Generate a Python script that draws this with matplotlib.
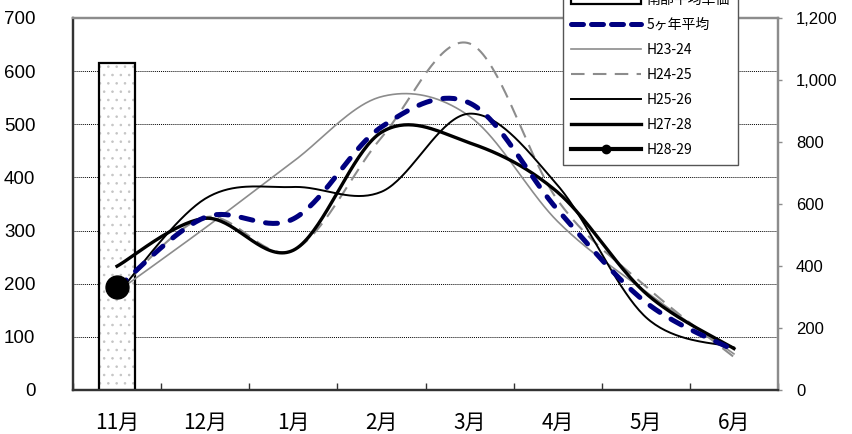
import matplotlib
matplotlib.use("Agg")
import matplotlib.pyplot as plt
import numpy as np
from matplotlib.lines import Line2D
from matplotlib.patches import Patch

# Data
months = ['11月', '12月', '1月', '2月', '3月', '4月', '5月', '6月']
price_bar = [1056]                      # 南部平均単価 (right axis), only Nov
avg5 = [192, 325, 322, 495, 540, 339, 165, 75]   # 5ヶ年平均
h23 = [185, 305, 430, 552, 515, 317, 185, 68]    # H23-24
h24 = [185, 325, 263, 475, 652, 357, 195, 62]    # H24-25
h25 = [180, 360, 382, 373, 520, 385, 137, 80]    # H25-26
h27 = [233, 323, 263, 485, 465, 372, 182, 78]    # H27-28
h28 = [194]                                       # H28-29


def smooth(y, n=40):
    # Excel-like smoothed line (Catmull-Rom bezier through the points)
    y = np.asarray(y, float)
    x = np.arange(len(y), dtype=float)
    if len(y) < 2:
        return x, y
    xs, ys = [], []
    t = np.linspace(0, 1, n)
    for i in range(len(y) - 1):
        i0 = max(i - 1, 0)
        i3 = min(i + 2, len(y) - 1)
        px = [x[i], x[i] + (x[i + 1] - x[i0]) / 6, x[i + 1] - (x[i3] - x[i]) / 6, x[i + 1]]
        py = [y[i], y[i] + (y[i + 1] - y[i0]) / 6, y[i + 1] - (y[i3] - y[i]) / 6, y[i + 1]]
        b = [(1 - t) ** 3, 3 * (1 - t) ** 2 * t, 3 * (1 - t) * t ** 2, t ** 3]
        xs.append(sum(bb * p for bb, p in zip(b, px)))
        ys.append(sum(bb * p for bb, p in zip(b, py)))
    return np.concatenate(xs), np.concatenate(ys)


jp = ['Noto Sans CJK JP', 'DejaVu Sans']
num = ['Liberation Sans', 'DejaVu Sans']
plt.rcParams['hatch.linewidth'] = 0.6
dot_gray = '#c4c4c4'

fig = plt.figure(figsize=(8.53, 4.34), dpi=100)
ax = fig.add_axes([73 / 853, 44 / 434, 705 / 853, 372 / 434])
ax2 = ax.twinx()

# grid on the left axis
ax.set_ylim(0, 700)
ax.set_yticks(range(0, 701, 100))
ax.yaxis.grid(True, color='black', linestyle=(0, (1, 1)), linewidth=0.7)
ax.set_axisbelow(True)

# bar on the right axis: dotted fill first, then the black outline
ax2.set_ylim(0, 1200)
ax2.bar(range(len(price_bar)), price_bar, width=0.41, color='white',
        edgecolor=dot_gray, linewidth=0, hatch='..', zorder=1)
ax2.bar(range(len(price_bar)), price_bar, width=0.41, fill=False,
        edgecolor='black', linewidth=1.6, zorder=1)

# lines use the left-axis scale, drawn above the bar
tr = ax.transData
gray = '#8c8c8c'
ax2.plot(*smooth(h23), color=gray, lw=1.2, transform=tr, zorder=3)
ax2.plot(*smooth(h24), color=gray, lw=1.5, dashes=(6.5, 4), transform=tr, zorder=3)
ax2.plot(*smooth(h25), color='black', lw=1.4, transform=tr, zorder=3)
ax2.plot(*smooth(h27), color='black', lw=2.4, transform=tr, zorder=3)
ax2.plot(*smooth(avg5), color='#000080', lw=3.6, dashes=(2.4, 2.6),
         dash_capstyle='round', transform=tr, zorder=4)
ax2.plot(range(len(h28)), h28, color='black', marker='o', ms=16.5, lw=3,
         transform=tr, zorder=5)
ax2.set_ylim(0, 1200)

ax.set_xlim(-0.5, len(months) - 0.5)
ax.set_xticks(np.arange(len(months) + 1) - 0.5)
ax.set_xticklabels([])
ax.set_xticks(range(len(months)), minor=True)
ax.set_xticklabels(months, minor=True, fontsize=15, family=jp)
ax.tick_params(axis='x', which='major', direction='in', length=5, width=1, color='#333333')
ax.tick_params(axis='x', which='minor', length=0, pad=16)
ax.tick_params(axis='y', length=0, pad=27, labelsize=13.5)
for lab in ax.get_yticklabels():
    lab.set_family(num)

ax2.set_yticks(range(0, 1201, 200))
ax2.set_yticklabels([f'{v:,}' for v in range(0, 1201, 200)], family=num, fontsize=12)
ax2.tick_params(axis='y', direction='out', length=3, width=1, color=gray, pad=10)

for a in (ax, ax2):
    a.spines['left'].set_color('#333333')
    a.spines['bottom'].set_color('#333333')
    a.spines['top'].set_color(gray)
    a.spines['right'].set_color(gray)
    for s in a.spines.values():
        s.set_linewidth(1.6)

handles = [
    Patch(facecolor='white', edgecolor='black', linewidth=1.6),
    Line2D([], [], color='#000080', lw=3.6, dashes=(2.4, 1.6), dash_capstyle='round'),
    Line2D([], [], color=gray, lw=1.2),
    Line2D([], [], color=gray, lw=1.5, dashes=(6.5, 4)),
    Line2D([], [], color='black', lw=1.4),
    Line2D([], [], color='black', lw=2.4),
    Line2D([], [], color='black', lw=3, marker='o', ms=6),
]
labels = ['南部平均単価', '5ヶ年平均', 'H23-24', 'H24-25', 'H25-26', 'H27-28', 'H28-29']
leg = fig.legend(handles, labels, loc='lower left',
                 bbox_to_anchor=(563 / 853, (434 - 165) / 434),
                 prop={'family': jp, 'size': 10}, frameon=True, fancybox=False,
                 edgecolor='#555555', framealpha=1, borderpad=0.6,
                 handlelength=5.0, handletextpad=0.4, labelspacing=0.79,
                 borderaxespad=0)
leg.get_frame().set_linewidth(1.0)

fig.savefig('out.png', dpi=100)
